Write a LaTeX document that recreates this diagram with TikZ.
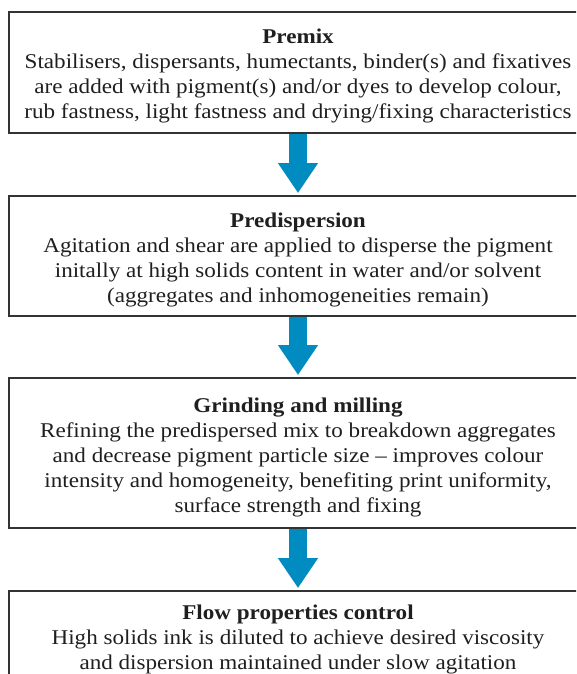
\documentclass[tikz,border=0pt]{standalone}
\usepackage{fontspec}
\setmainfont[FakeStretch=1.1]{Liberation Serif}
\usetikzlibrary{arrows.meta}
\definecolor{boxline}{HTML}{333333}
\definecolor{flowblue}{HTML}{008CC1}
\tikzset{
  stagebox/.style={draw=boxline, line width=1.8pt, rectangle, minimum width=578pt, inner sep=0pt},
  stagetext/.style={align=center, text=black!88, font=\fontsize{21pt}{25pt}\selectfont, inner sep=0pt},
  flowarrow/.style={draw=flowblue, line width=18pt, -{Triangle[width=38pt,length=30pt]}, shorten >=2pt}
}
\begin{document}
\begin{tikzpicture}
\useasboundingbox (0,0) rectangle (576pt,-674pt);
\clip (0,0) rectangle (576pt,-674pt);
\fill[white] (0,0) rectangle (576pt,-674pt);
\node[stagebox, minimum height=121pt, label={[stagetext, yshift=-3pt]center:{\textbf{Premix}\\Stabilisers, dispersants, humectants, binder(s) and fixatives\\are added with pigment(s) and/or dyes to develop colour,\\rub fastness, light fastness and drying/fixing characteristics}}] (b1) at (298pt,-72.5pt) {};
\node[stagebox, minimum height=120pt, label={[stagetext, yshift=-4pt]center:{\textbf{Predispersion}\\Agitation and shear are applied to disperse the pigment\\initally at high solids content in water and/or solvent\\(aggregates and inhomogeneities remain)}}] (b2) at (298pt,-256pt) {};
\node[stagebox, minimum height=150pt, label={[stagetext, yshift=-4.5pt]center:{\textbf{Grinding and milling}\\Refining the predispersed mix to breakdown aggregates\\and decrease pigment particle size -- improves colour\\intensity and homogeneity, benefiting print uniformity,\\surface strength and fixing}}] (b3) at (298pt,-453pt) {};
\node[stagebox, minimum height=134pt, label={[stagetext, yshift=-4pt]center:{\textbf{Flow properties control}\\High solids ink is diluted to achieve desired viscosity\\and dispersion maintained under slow agitation\\\mbox{}\\\mbox{}}}] (b4) at (298pt,-658pt) {};
\draw[flowarrow] (b1.south) -- (b2.north);
\draw[flowarrow] (b2.south) -- (b3.north);
\draw[flowarrow] (b3.south) -- (b4.north);
\end{tikzpicture}
\end{document}
